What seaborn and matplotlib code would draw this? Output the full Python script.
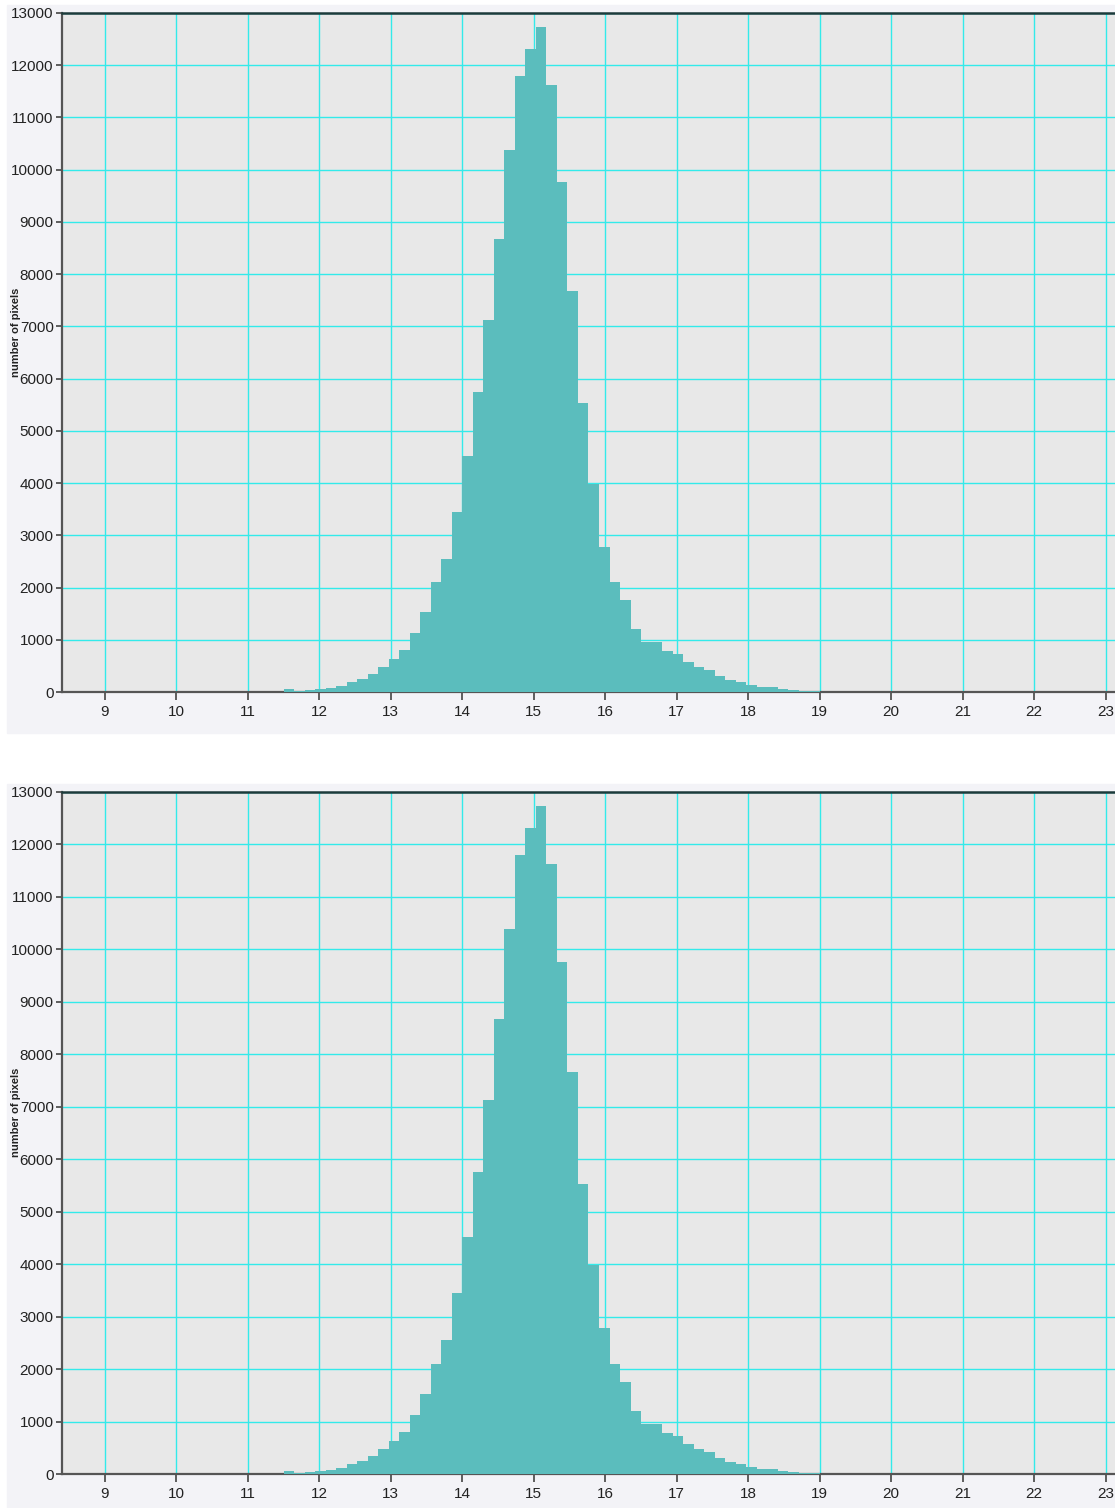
import numpy as np
import pandas as pd
import matplotlib
matplotlib.use("Agg")
import matplotlib.pyplot as plt
import seaborn as sns
from matplotlib.patches import Rectangle

# histogram: 51 equal bins between 11.5 and 19.0, counts per bin
bin_lo = 11.5
bin_hi = 19.0
counts = [50, 20, 40, 60, 80, 110, 200, 240, 350, 470,
          630, 805, 1130, 1527, 2100, 2550, 3445, 4527, 5753, 7130,
          8680, 10380, 11795, 12320, 12726, 11630, 9757, 7670, 5530, 3985,
          2784, 2100, 1762, 1207, 960, 955, 791, 722, 569, 473,
          421, 300, 230, 186, 134, 90, 88, 50, 30, 28, 25]
x_ticks = list(range(9, 24))
y_ticks = list(range(0, 13001, 1000))
y_label = "number of pixels"

BAR = "#5bbdbd"
GRID = "#33eaea"
PANEL = "#f3f3f7"
PLOT_BG = "#e8e8e8"


def draw_hist(ax):
    n = len(counts)
    edges = np.linspace(bin_lo, bin_hi, n + 1)
    df = pd.DataFrame({"value": (edges[:-1] + edges[1:]) / 2, "count": counts})
    sns.histplot(data=df, x="value", weights="count", bins=n,
                 binrange=(bin_lo, bin_hi), ax=ax,
                 color=BAR, alpha=1, edgecolor="none", linewidth=0, zorder=3)
    ax.set_facecolor(PLOT_BG)
    ax.set_xlim(8.4, 23.13)
    ax.set_ylim(0, 13000)
    ax.set_xticks(x_ticks)
    ax.set_yticks(y_ticks)
    ax.grid(True, color=GRID, linewidth=1.0, zorder=1)
    ax.set_axisbelow(True)
    ax.set_xlabel("")
    ax.set_ylabel(y_label, fontsize=8, fontweight="bold", color="#222222")
    ax.tick_params(axis="both", direction="out", bottom=True, left=True,
                   width=1.2, color="#444444", labelsize=11,
                   labelcolor="#222222")
    ax.tick_params(axis="x", length=6, pad=3)
    ax.tick_params(axis="y", length=4, pad=2)
    ax.spines["right"].set_visible(False)
    ax.spines["top"].set_color("#1d3b3b")
    ax.spines["top"].set_linewidth(1.8)
    for s in ["left", "bottom"]:
        ax.spines[s].set_color("#555555")
        ax.spines[s].set_linewidth(1.6)


def main():
    sns.set_style("white")
    plt.rcParams["font.family"] = ["Liberation Sans", "DejaVu Sans"]

    W, H = 1115, 1508
    fig = plt.figure(figsize=(W / 100, H / 100), dpi=100)
    fig.patch.set_facecolor("white")

    # light panel backgrounds behind each chart
    fig.patches.append(Rectangle((7 / W, 1 - 733 / H), 1 - 7 / W, 728 / H,
                                 transform=fig.transFigure, color=PANEL, zorder=-10))
    fig.patches.append(Rectangle((7 / W, 0), 1 - 7 / W, 1 - 784 / H,
                                 transform=fig.transFigure, color=PANEL, zorder=-10))

    left = 62 / W
    width = 1 - left
    ax1 = fig.add_axes([left, 1 - 692 / H, width, (692 - 13) / H])
    ax2 = fig.add_axes([left, 1 - 1474 / H, width, (1474 - 792) / H])
    for ax in (ax1, ax2):
        draw_hist(ax)
        ax.yaxis.set_label_coords(-0.039, 0.53)

    fig.savefig("out.png", dpi=100, facecolor=fig.get_facecolor())
    plt.close(fig)


if __name__ == "__main__":
    main()
